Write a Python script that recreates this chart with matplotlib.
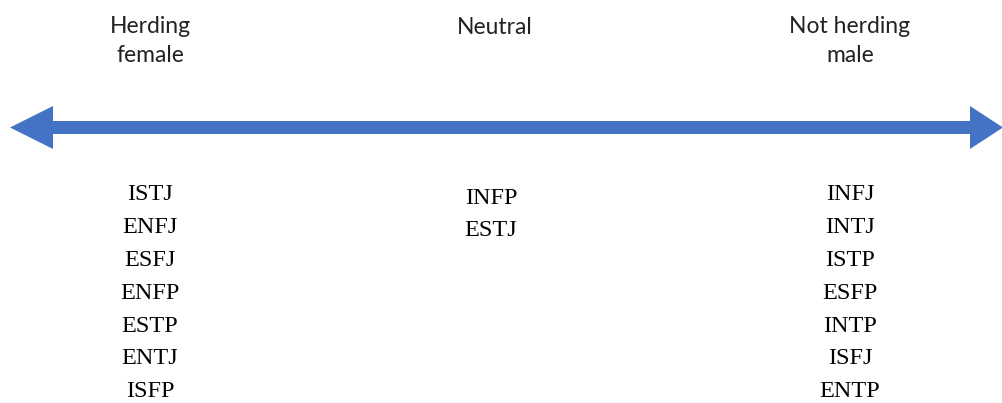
import matplotlib.pyplot as plt
from matplotlib.patches import Polygon

# Catégories et types de personnalité
headers = ["Herding\nfemale", "Neutral", "Not herding\nmale"]
herding_female = ["ISTJ", "ENFJ", "ESFJ", "ENFP", "ESTP", "ENTJ", "ISFP"]
neutral = ["INFP", "ESTJ"]
not_herding_male = ["INFJ", "INTJ", "ISTP", "ESFP", "INTP", "ISFJ", "ENTP"]
columns = [herding_female, neutral, not_herding_male]

W, H = 1003, 403
fig = plt.figure(figsize=(W / 100, H / 100), dpi=100)
ax = fig.add_axes([0, 0, 1, 1])
ax.set_xlim(0, W)
ax.set_ylim(H, 0)
ax.axis("off")

blue = "#4472C4"
# Flèche double
y0, half_shaft, half_head = 127.5, 6.5, 21.5
x_left, x_right, head_len = 10, 1003, 43
xb_l, xb_r = x_left + head_len, x_right - 33
arrow = Polygon([
    (x_left, y0), (xb_l, y0 - half_head), (xb_l, y0 - half_shaft),
    (xb_r, y0 - half_shaft), (xb_r, y0 - half_head),
    (x_right, y0), (xb_r, y0 + half_head), (xb_r, y0 + half_shaft),
    (xb_l, y0 + half_shaft), (xb_l, y0 + half_head),
], closed=True, color=blue, lw=0)
ax.add_patch(arrow)

# En-têtes
hx = [150, 495, 850]
hy = [41, 28, 41]
for x, y, t in zip(hx, hy, headers):
    ax.text(x, y, t, ha="center", va="center", fontsize=16.5, family="Lato",
            color="#222222", linespacing=1.5)

# Colonnes de types
cx = [150, 491, 850]
cy = [195, 198, 195]
step = 32.8
for x, y, col in zip(cx, cy, columns):
    for i, t in enumerate(col):
        ax.text(x, y + i * step, t, ha="center", va="center", fontsize=17.5,
                family="Liberation Serif", color="black")

fig.savefig("out.png", dpi=100)
